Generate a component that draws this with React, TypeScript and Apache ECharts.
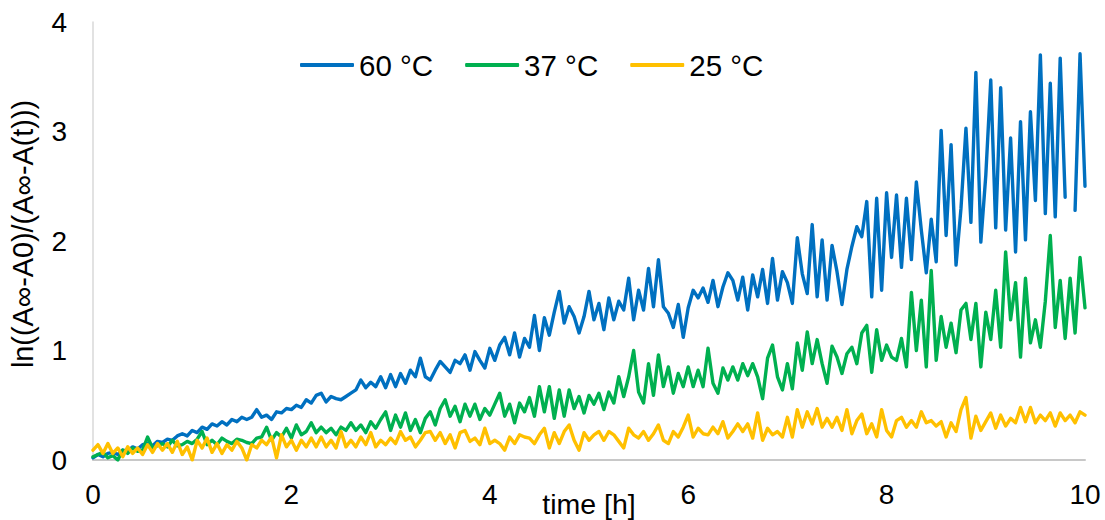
import { useEffect, useRef } from "react";
import * as echarts from "echarts";

// Sampling interval of the kinetic measurement, hours
const SAMPLE_STEP_H = 0.05;

const seriesNames = ["60 °C", "37 °C", "25 °C"];
const seriesColors = ["#0070C0", "#00B050", "#FFC000"];
const yAxisTitle = "ln((A∞-A0)/(A∞-A(t)))";
const xAxisTitle = "time [h]";

// ln((A∞-A0)/(A∞-A(t))) at 60 °C, one value per sample (null = missing sample)
const ln60: (number | null)[] = [
  0.02, 0.05, 0.03, 0.06, 0.07, 0.05, 0.09, 0.08, 0.12, 0.10,
  0.14, 0.15, 0.13, 0.17, 0.16, 0.19, 0.18, 0.22, 0.24, 0.22,
  0.27, 0.25, 0.30, 0.28, 0.33, 0.31, 0.35, 0.32, 0.37, 0.35,
  0.39, 0.37, 0.39, 0.46, 0.39, 0.41, 0.37, 0.44, 0.43, 0.47,
  0.46, 0.50, 0.48, 0.55, 0.52, 0.59, 0.61, 0.53, 0.58, 0.56,
  0.55, 0.58, 0.61, 0.64, 0.73, 0.66, 0.71, 0.67, 0.76, 0.66,
  0.78, 0.67, 0.79, 0.70, 0.82, 0.76, 0.93, 0.76, 0.73, 0.82,
  0.90, 0.85, 0.80, 0.91, 0.88, 0.96, 0.82, 0.99, 0.91, 0.84,
  1.02, 0.91, 1.05, 1.12, 0.96, 1.16, 0.94, 1.11, 1.03, 1.32,
  1.00, 1.30, 1.14, 1.35, 1.54, 1.25, 1.40, 1.31, 1.16, 1.31,
  1.54, 1.28, 1.43, 1.19, 1.48, 1.28, 1.45, 1.37, 1.66, 1.28,
  1.55, 1.37, 1.75, 1.40, 1.83, 1.40, 1.34, 1.21, 1.42, 1.12,
  1.39, 1.55, 1.48, 1.57, 1.44, 1.64, 1.40, 1.58, 1.71, 1.64,
  1.46, 1.67, 1.37, 1.69, 1.49, 1.74, 1.43, 1.84, 1.46, 1.72,
  1.62, 1.43, 2.03, 1.70, 1.52, 2.15, 1.49, 2.01, 1.46, 1.96,
  1.72, 1.42, 1.74, 1.95, 2.13, 2.04, 2.36, 1.49, 2.39, 1.55,
  2.44, 1.85, 2.42, 1.76, 2.39, 1.83, 2.54, 2.10, 1.71, 2.20,
  1.81, 3.01, 2.05, 2.88, 1.78, 2.30, 3.03, 2.17, 3.54, 1.99,
  2.60, 3.47, 2.12, 3.40, 2.10, 2.94, 1.90, 3.09, 2.01, 3.18,
  2.37, 3.70, 2.25, 3.44, 2.22, 3.67, 2.40, null, 2.28, 3.71,
  2.50,
];

// 37 °C
const ln37: (number | null)[] = [
  0.03, 0.05, 0.07, 0.02, 0.04, 0.00, 0.09, 0.06, 0.11, 0.08,
  0.09, 0.21, 0.11, 0.13, 0.15, 0.12, 0.18, 0.13, 0.14, 0.17,
  0.15, 0.19, 0.26, 0.14, 0.18, 0.14, 0.20, 0.17, 0.15, 0.19,
  0.18, 0.16, 0.15, 0.20, 0.21, 0.30, 0.18, 0.25, 0.21, 0.29,
  0.20, 0.32, 0.23, 0.26, 0.34, 0.25, 0.30, 0.25, 0.29, 0.23,
  0.30, 0.27, 0.34, 0.27, 0.32, 0.25, 0.35, 0.29, 0.37, 0.44,
  0.27, 0.41, 0.30, 0.43, 0.27, 0.37, 0.25, 0.38, 0.44, 0.32,
  0.47, 0.55, 0.40, 0.49, 0.35, 0.51, 0.40, 0.51, 0.37, 0.47,
  0.41, 0.51, 0.61, 0.40, 0.51, 0.34, 0.52, 0.44, 0.57, 0.40,
  0.67, 0.44, 0.67, 0.38, 0.64, 0.40, 0.64, 0.47, 0.58, 0.43,
  0.59, 0.51, 0.61, 0.46, 0.62, 0.52, 0.76, 0.58, 0.76, 1.00,
  0.62, 0.52, 0.88, 0.59, 0.96, 0.67, 0.85, 0.61, 0.79, 0.67,
  0.85, 0.67, 0.82, 0.67, 1.02, 0.70, 0.61, 0.84, 0.73, 0.85,
  0.73, 0.88, 0.77, 0.88, 0.76, 0.56, 0.93, 1.05, 0.76, 0.64,
  0.88, 0.65, 1.07, 0.82, 1.17, 0.88, 1.10, 0.88, 0.70, 1.04,
  0.94, 0.79, 0.97, 1.03, 0.88, 1.16, 1.23, 0.80, 1.19, 0.91,
  1.05, 0.94, 0.91, 1.11, 0.85, 1.53, 1.00, 1.46, 0.85, 1.73,
  0.91, 1.31, 1.03, 1.25, 0.98, 1.37, 1.43, 1.10, 1.43, 0.85,
  1.35, 1.10, 1.55, 1.03, 1.90, 1.28, 1.62, 0.94, 1.66, 1.07,
  1.28, 1.03, 1.45, 2.05, 1.21, 1.64, 1.11, 1.66, 1.16, 1.85,
  1.39,
];

// 25 °C
const ln25: (number | null)[] = [
  0.09, 0.14, 0.06, 0.15, 0.06, 0.11, 0.03, 0.12, 0.06, 0.11,
  0.05, 0.14, 0.07, 0.15, 0.09, 0.15, 0.07, 0.17, 0.05, 0.12,
  0.00, 0.18, 0.11, 0.20, 0.07, 0.15, 0.06, 0.14, 0.09, 0.17,
  0.11, 0.00, 0.14, 0.11, 0.18, 0.14, 0.21, 0.02, 0.23, 0.12,
  0.18, 0.09, 0.18, 0.12, 0.20, 0.12, 0.21, 0.12, 0.18, 0.11,
  0.26, 0.12, 0.18, 0.12, 0.21, 0.14, 0.25, 0.12, 0.18, 0.14,
  0.20, 0.15, 0.26, 0.18, 0.21, 0.12, 0.18, 0.25, 0.26, 0.18,
  0.25, 0.15, 0.23, 0.11, 0.25, 0.27, 0.17, 0.20, 0.14, 0.29,
  0.15, 0.18, 0.15, 0.09, 0.21, 0.15, 0.23, 0.21, 0.20, 0.15,
  0.23, 0.29, 0.11, 0.25, 0.15, 0.26, 0.32, 0.18, 0.09, 0.25,
  0.18, 0.23, 0.26, 0.18, 0.26, 0.23, 0.17, 0.11, 0.29, 0.23,
  0.20, 0.26, 0.18, 0.24, 0.32, 0.18, 0.15, 0.26, 0.21, 0.30,
  0.41, 0.21, 0.29, 0.24, 0.23, 0.30, 0.24, 0.35, 0.20, 0.26,
  0.33, 0.26, 0.33, 0.20, 0.43, 0.18, 0.29, 0.23, 0.26, 0.21,
  0.39, 0.21, 0.46, 0.30, 0.44, 0.33, 0.47, 0.30, 0.38, 0.30,
  0.39, 0.27, 0.46, 0.24, 0.36, 0.42, 0.24, 0.33, 0.21, 0.46,
  0.27, 0.21, 0.36, 0.39, 0.30, 0.36, 0.30, 0.44, 0.34, 0.36,
  0.31, 0.35, 0.21, 0.34, 0.26, 0.46, 0.57, 0.20, 0.40, 0.27,
  0.35, 0.43, 0.29, 0.41, 0.31, 0.38, 0.34, 0.48, 0.35, 0.48,
  0.34, 0.41, 0.36, 0.43, 0.31, 0.43, 0.36, 0.41, 0.34, 0.44,
  0.41,
];

const allSeries = [ln60, ln37, ln25];

const FONT = "'Liberation Sans', Arial, sans-serif";

export default function App() {
  const ref = useRef<HTMLDivElement>(null);

  useEffect(() => {
    if (!ref.current) return;
    const chart = echarts.init(ref.current, undefined, { renderer: "svg" });

    const series = allSeries.map((vals, k) => ({
      name: seriesNames[k],
      type: "line",
      showSymbol: false,
      symbol: "none",
      connectNulls: false,
      lineStyle: { color: seriesColors[k], width: 3.4, join: "round", cap: "round" },
      itemStyle: { color: seriesColors[k] },
      data: vals.map((v, i) => [
        Number((i * SAMPLE_STEP_H).toFixed(2)),
        v === null ? "-" : v,
      ]),
    }));

    chart.setOption({
      animation: false,
      textStyle: { fontFamily: FONT },
      grid: {
        left: 93,
        right: 20,
        top: 22,
        bottom: 60,
        containLabel: false,
        outerBoundsMode: "none",
      },
      legend: {
        data: seriesNames.map((n) => ({ name: n, icon: "roundRect" })),
        left: 300,
        top: 50,
        padding: 0,
        itemWidth: 54,
        itemHeight: 4,
        itemGap: 32,
        textStyle: { fontSize: 29.5, color: "#000", fontFamily: FONT },
      },
      xAxis: {
        type: "value",
        min: 0,
        max: 10,
        interval: 2,
        name: xAxisTitle,
        nameLocation: "middle",
        nameGap: 29,
        nameMoveOverlap: false,
        nameTextStyle: { fontSize: 28.5, color: "#000", fontFamily: FONT },
        axisLine: { show: true, onZero: false, lineStyle: { color: "#c8c8c8", width: 2 } },
        axisTick: { show: false },
        splitLine: { show: false },
        axisLabel: { fontSize: 28, color: "#000", margin: 20, fontFamily: FONT },
      },
      yAxis: {
        type: "value",
        min: 0,
        max: 4,
        interval: 1,
        axisLine: { show: true, lineStyle: { color: "#d9d9d9", width: 1.5 } },
        axisTick: { show: false },
        splitLine: { show: false },
        axisLabel: { fontSize: 28, color: "#000", margin: 26, fontFamily: FONT },
      },
      graphic: [
        {
          type: "text",
          x: 23,
          y: 234,
          rotation: Math.PI / 2,
          style: {
            text: yAxisTitle,
            fill: "#000",
            font: `28.8px ${FONT}`,
            align: "center",
            verticalAlign: "middle",
          },
        },
      ],
      series,
    });

    return () => chart.dispose();
  }, []);

  return (
    <div
      ref={ref}
      style={{ position: "fixed", left: 0, top: 0, width: 1105, height: 520, background: "#fff" }}
    />
  );
}
